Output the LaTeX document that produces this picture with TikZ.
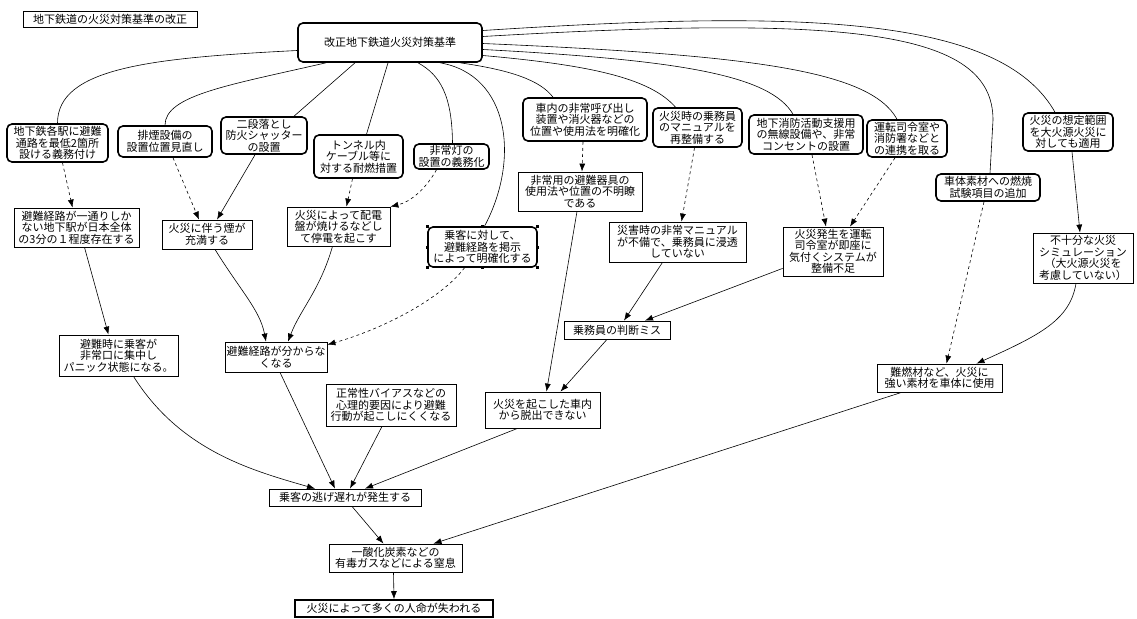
\documentclass[tikz,border=0pt]{standalone}
\usepackage{fontspec}
\setmainfont{Noto Sans CJK JP}
\usetikzlibrary{arrows.meta}
\begin{document}
\begin{tikzpicture}[x=1pt,y=-1pt,
  base/.style={draw, inner sep=0.5pt, align=center, font=\fontsize{11}{11.5}\selectfont, line width=0.8pt},
  rbox/.style={base, rounded corners=5pt, line width=1.6pt},
  sbox/.style={base},
  sz/.style 2 args={minimum width=#1pt, minimum height=#2pt},
  edge/.style={line width=0.6pt},
  arr/.style={edge, -{Latex[length=8pt,width=6pt]}},
  darr/.style={arr, dash pattern=on 3pt off 3pt}]
\fill[white] (0,0) rectangle (1137,618);
\useasboundingbox (0,0) rectangle (1137,618);

% title and root
\node[sbox, sz={174}{16}] (title) at (110,19) {地下鉄道の火災対策基準の改正};
\node[rbox, sz={184}{39}] (root) at (390,42.5) {改正地下鉄道火災対策基準};

% first row (measures)
\node[rbox, sz={101}{38}] (n1) at (57.5,143) {地下鉄各駅に避難\\通路を最低2箇所\\設ける義務付け};
\node[rbox, sz={94}{31}] (n2) at (165,141.5) {排煙設備の\\設置位置見直し};
\node[rbox, sz={86}{37}] (n3) at (264,135.5) {二段落とし\\防火シャッター\\の設置};
\node[rbox, sz={89}{43}] (n4) at (358.5,156.5) {トンネル内\\ケーブル等に\\対する耐燃措置};
\node[rbox, sz={75}{25}] (n5) at (451.5,156.5) {非常灯の\\設置の義務化};
\node[rbox, sz={124}{43}] (n6) at (585,119.5) {車内の非常呼び出し\\装置や消火器などの\\位置や使用法を明確化};
\node[rbox, sz={89}{39}] (n7) at (697.5,127.5) {火災時の乗務員\\のマニュアルを\\再整備する};
\node[rbox, sz={114}{39}] (n8) at (806,134.5) {地下消防活動支援用\\の無線設備や、非常\\コンセントの設置};
\node[rbox, sz={80}{37}] (n9) at (907,138.5) {運転司令室や\\消防署などと\\の連携を取る};
\node[rbox, sz={104}{27}] (n10) at (988,187.5) {車体素材への燃焼\\試験項目の追加};
\node[rbox, sz={90}{38}] (n11) at (1068,132) {火災の想定範囲\\を大火源火災に\\対しても適用};

% second row (problems)
\node[sbox, sz={125}{39}] (a) at (76.5,227.5) {避難経路が一通りしか\\ない地下駅が日本全体\\の3分の１程度存在する};
\node[sbox, sz={90}{29}] (b) at (207,234.5) {火災に伴う煙が\\充満する};
\node[sbox, sz={103}{39}] (c) at (338.5,226.5) {火災によって配電\\盤が焼けるなどし\\て停電を起こす};
\node[rbox, sz={109}{40}] (d) at (482.5,247) {乗客に対して、\\避難経路を掲示\\によって明確化する};
\node[sbox, sz={124}{39}] (e) at (580,191.5) {非常用の避難器具の\\使用法や位置の不明瞭\\である};
\node[sbox, sz={137}{40}] (f) at (677.5,242) {災害時の非常マニュアル\\が不備で、乗務員に浸透\\していない};
\node[sbox, sz={100}{49}] (g) at (833,251.5) {火災発生を運転\\司令室が即座に\\気付くシステムが\\整備不足};
\node[sbox, sz={100}{50}] (h) at (1083,258) {不十分な火災\\シミュレーション\\（大火源火災を\\考慮していない）};

% third row
\node[sbox, sz={119}{41}] (i) at (118.5,355.5) {避難時に乗客が\\非常口に集中し\\パニック状態になる。};
\node[sbox, sz={102}{30}] (j) at (276,357) {避難経路が分からな\\くなる};
\node[sbox, sz={106}{18}] (k) at (617,330) {乗務員の判断ミス};
\node[sbox, sz={125}{28}] (l) at (939.5,378) {難燃材など、火災に\\強い素材を車体に使用};
\node[sbox, sz={130}{42}] (m) at (391,405) {正常性バイアスなどの\\心理的要因により避難\\行動が起こしにくくなる};
\node[sbox, sz={115}{36}] (n) at (542.5,410) {火災を起こした車内\\から脱出できない};

% bottom chain
\node[sbox, sz={152}{17}] (o) at (345,497.5) {乗客の逃げ遅れが発生する};
\node[sbox, sz={133}{28}] (p) at (395.5,558) {一酸化炭素などの\\有毒ガスなどによる窒息};
\node[sbox, line width=1.6pt, sz={198}{17}] (q) at (394,608.5) {火災によって多くの人命が失われる};

% selection handles on d
\foreach \an in {north,south,east,west,north east,north west,south east,south west}
  \fill (d.\an) +(-1.5,-1.5) rectangle +(1.5,1.5);

% root to measures
\draw[edge] ([yshift=-8pt]root.west) .. controls (150,58) and (57.5,68) .. (n1.north);
\draw[edge] ([xshift=-64pt]root.south) .. controls (230,85) and (165,95) .. (n2.north);
\draw[edge] ([xshift=-35pt]root.south) -- ([xshift=30pt]n3.north);
\draw[edge] ([xshift=-2pt]root.south) -- ([xshift=8pt]n4.north);
\draw[edge] ([xshift=28pt]root.south) .. controls (440,75) and (452,95) .. ([xshift=1pt]n5.north);
\draw[edge] ([xshift=50pt]root.south) .. controls (510,75) and (520,160) .. ([xshift=2pt]d.north);
\draw[edge] ([xshift=70pt]root.south) .. controls (510,70) and (540,80) .. ([xshift=-32pt]n6.north);
\draw[edge] ([yshift=12pt]root.east) .. controls (800,10) and (1000,15) .. ([xshift=-13pt]n11.north);
\draw[edge] ([yshift=6pt]root.east) .. controls (850,15) and (993,30) .. (993,120) -- ([xshift=2pt]n10.north);
\draw[edge] ([yshift=-1pt]root.east) .. controls (750,55) and (870,70) .. ([xshift=-10pt]n9.north);
\draw[edge] ([yshift=-7pt]root.east) .. controls (680,60) and (770,75) .. ([xshift=-13pt]n8.north);
\draw[edge] ([yshift=-13pt]root.east) .. controls (590,65) and (650,78) .. ([xshift=-22pt]n7.north);

% measures to problems
\draw[darr] ([xshift=5pt]n1.south) -- ([xshift=-4pt]a.north);
\draw[darr] ([xshift=8pt]n2.south) -- ([xshift=-8pt]b.north);
\draw[arr] ([xshift=-9pt]n3.south) -- ([xshift=10pt]b.north);
\draw[darr] ([xshift=-6pt]n4.south) -- ([xshift=8pt]c.north);
\draw[darr] ([xshift=-15pt]n5.south) .. controls (425,190) and (410,202) .. (c.north east);
\draw[darr] ([xshift=-2pt]n6.south) -- ([xshift=2pt]e.north);
\draw[darr] ([xshift=-3pt]n7.south) -- ([xshift=4pt]f.north);
\draw[darr] ([xshift=6pt]n8.south) -- ([xshift=-7pt]g.north);
\draw[darr] ([xshift=-12pt]n9.south) -- ([xshift=17pt]g.north);
\draw[darr] ([xshift=-4pt]n10.south) -- ([xshift=7pt]l.north);
\draw[arr] ([xshift=4pt]n11.south) -- ([xshift=-3pt]h.north);

% problems to consequences
\draw[arr] ([xshift=8pt]a.south) -- ([xshift=-10pt]i.north);
\draw[arr] ([xshift=8pt]b.south) .. controls (240,290) and (260,310) .. ([xshift=-10pt]j.north);
\draw[arr] ([xshift=-6pt]c.south) .. controls (320,290) and (300,310) .. ([xshift=12pt]j.north);
\draw[darr] ([xshift=-18pt]d.south) .. controls (440,300) and (380,330) .. ([yshift=-3pt]j.north east);
\draw[arr] ([xshift=-3pt]e.south) -- ([xshift=4pt]n.north);
\draw[arr] ([xshift=-15pt]f.south) -- ([xshift=7pt]k.north);
\draw[arr] ([yshift=8pt]g.south west) -- ([xshift=28pt]k.north);
\draw[arr] ([xshift=-7pt]h.south) .. controls (1070,320) and (1040,335) .. ([xshift=37pt]l.north);
\draw[arr] ([xshift=-10pt]k.south) -- ([xshift=18pt]n.north);

% to the bottom chain
\draw[arr] ([xshift=15pt]i.south) .. controls (180,450) and (250,470) .. ([xshift=-30pt]o.north);
\draw[arr] ([xshift=4pt]j.south) -- ([xshift=-10pt]o.north);
\draw[arr] ([xshift=-9pt]m.south) -- ([xshift=5pt]o.north);
\draw[arr] ([xshift=-25pt]n.south) -- ([xshift=20pt]o.north);
\draw[arr] ([xshift=-38pt]l.south) -- ([xshift=38pt]p.north);
\draw[arr] ([xshift=7pt]o.south) -- ([xshift=-12pt]p.north);
\draw[arr] ([xshift=-2pt]p.south) -- (q.north);
\end{tikzpicture}
\end{document}
